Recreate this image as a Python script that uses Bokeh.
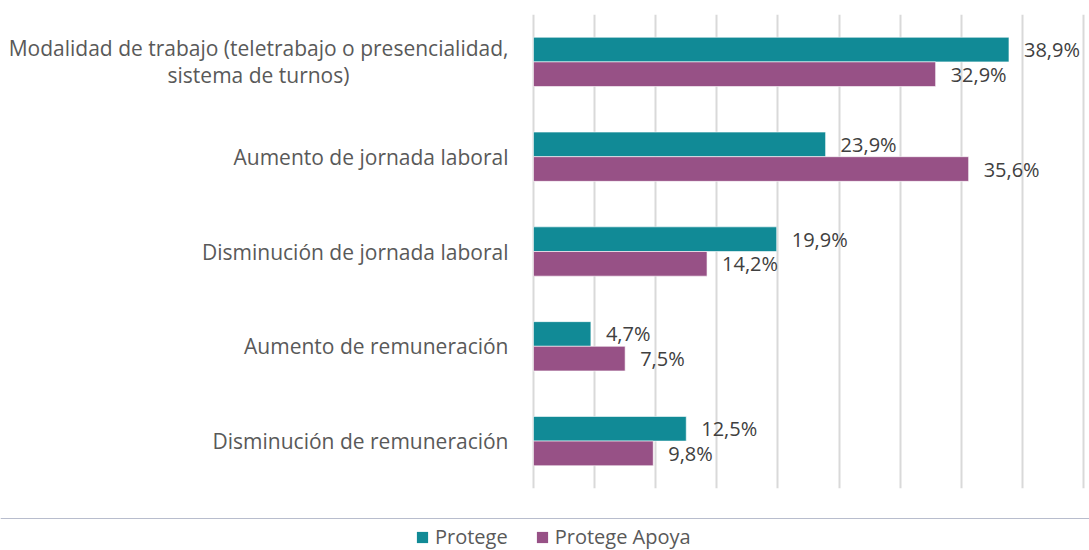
from bokeh.plotting import figure
from bokeh.layouts import column, row
from bokeh.models import (ColumnDataSource, FactorRange, Range1d, FixedTicker, LabelSet,
                          Legend, LegendItem)
from bokeh.core.properties import value
from bokeh.transform import dodge
from bokeh.embed import file_html
from bokeh.resources import INLINE

categories = [
    "Modalidad de trabajo (teletrabajo o presencialidad, sistema de turnos)",
    "Aumento de jornada laboral",
    "Disminución de jornada laboral",
    "Aumento de remuneración",
    "Disminución de remuneración",
]
first_label_lines = ["Modalidad de trabajo (teletrabajo o presencialidad,", "sistema de turnos)"]
protege = [38.9, 23.9, 19.9, 4.7, 12.5]
protege_apoya = [32.9, 35.6, 14.2, 7.5, 9.8]
series_names = ["Protege", "Protege Apoya"]
x_ticks = [0, 5, 10, 15, 20, 25, 30, 35, 40, 45]

TEAL = "#118A96"
PURPLE = "#975186"
FONT = "Open Sans"
CAT_SIZE = "21px"
CAT_COLOR = "#595959"


def fmt(v):
    return f"{v:.1f}".replace(".", ",") + "%"


src = ColumnDataSource(dict(
    cat=categories,
    a=protege,
    b=protege_apoya,
    la=[fmt(v) for v in protege],
    lb=[fmt(v) for v in protege_apoya],
))

yr = FactorRange(factors=list(reversed(categories)))

# ---- main bar panel ----
p = figure(
    width=558, height=518,
    frame_width=554, frame_height=474,
    y_range=yr, x_range=Range1d(-0.16, 45.16),
    x_axis_location=None, y_axis_location=None,
    output_backend="svg", toolbar_location=None,
    min_border_left=0, min_border_right=4, min_border_top=14, min_border_bottom=30,
)
p.outline_line_color = None
p.border_fill_color = "white"

ra = p.hbar(y=dodge("cat", 0.13, range=yr), right="a", left=0, height=0.26,
            source=src, fill_color=TEAL, line_color="#FFFFFF", line_width=0.6)
rb = p.hbar(y=dodge("cat", -0.13, range=yr), right="b", left=0, height=0.26,
            source=src, fill_color=PURPLE, line_color="#FFFFFF", line_width=0.6)

for col, lab, off in (("a", "la", 0.13), ("b", "lb", -0.13)):
    p.add_layout(LabelSet(x=col, y=dodge("cat", off, range=yr), text=lab, source=src,
                          x_offset=15, text_align="left", text_baseline="middle",
                          text_font=value(FONT), text_font_size="20px",
                          text_color="#404040"))

p.xgrid.ticker = FixedTicker(ticks=x_ticks)
p.xgrid.grid_line_color = "#D9D9D9"
p.xgrid.grid_line_width = 2
p.ygrid.grid_line_color = None

# ---- category label panel (shares the category scale) ----
lp = figure(
    width=531, height=518, frame_width=531, frame_height=474,
    y_range=yr, x_range=Range1d(0, 531),
    x_axis_location=None, y_axis_location=None,
    output_backend="svg", toolbar_location=None,
    min_border_left=0, min_border_right=0, min_border_top=14, min_border_bottom=30,
)
lp.outline_line_color = None
lp.xgrid.grid_line_color = None
lp.ygrid.grid_line_color = None

cat_src = ColumnDataSource(dict(cat=categories[1:], x=[508] * 4, t=categories[1:]))
lp.text(x="x", y="cat", text="t", source=cat_src, text_align="right",
        text_baseline="middle", text_font=value(FONT), text_font_size=value(CAT_SIZE),
        text_color=CAT_COLOR)
l1 = ColumnDataSource(dict(cat=[categories[0]], x=[508], t=[first_label_lines[0]]))
lp.text(x="x", y=dodge("cat", 0.142, range=yr), text="t", source=l1, text_align="right",
        text_baseline="middle", text_font=value(FONT), text_font_size=value(CAT_SIZE),
        text_color=CAT_COLOR)
l2 = ColumnDataSource(dict(cat=[categories[0]], x=[258], t=[first_label_lines[1]]))
lp.text(x="x", y=dodge("cat", -0.142, range=yr), text="t", source=l2, text_align="center",
        text_baseline="middle", text_font=value(FONT), text_font_size=value(CAT_SIZE),
        text_color=CAT_COLOR)

# ---- legend strip ----
lg = figure(
    width=1089, height=32, frame_width=1089, frame_height=32,
    x_range=Range1d(0, 1), y_range=Range1d(0, 1),
    x_axis_location=None, y_axis_location=None,
    output_backend="svg", toolbar_location=None,
    min_border_left=0, min_border_right=0, min_border_top=0, min_border_bottom=0,
)
lg.outline_line_color = None
lg.xgrid.grid_line_color = None
lg.ygrid.grid_line_color = None
# legend-key swatches only: their single bar lies outside the strip's visible range
key_src = ColumnDataSource(dict(y=[5], l=[0], r=[1]))
ga = lg.hbar(y="y", left="l", right="r", height=0.5, source=key_src,
             fill_color=TEAL, line_color=None)
gb = lg.hbar(y="y", left="l", right="r", height=0.5, source=key_src,
             fill_color=PURPLE, line_color=None)
legend = Legend(items=[LegendItem(label=series_names[0], renderers=[ga]),
                       LegendItem(label=series_names[1], renderers=[gb])],
                orientation="horizontal", location=(415, 0),
                label_text_font=FONT, label_text_font_size="20px", label_text_color=CAT_COLOR,
                label_text_line_height=1.0,
                glyph_width=14, glyph_height=14, label_standoff=6, spacing=27,
                padding=0, margin=0, border_line_color=None,
                background_fill_alpha=0)
lg.add_layout(legend, "center")

layout = column(row(lp, p, spacing=0), lg, spacing=0)
open("out.html", "w").write(file_html(layout, INLINE))
